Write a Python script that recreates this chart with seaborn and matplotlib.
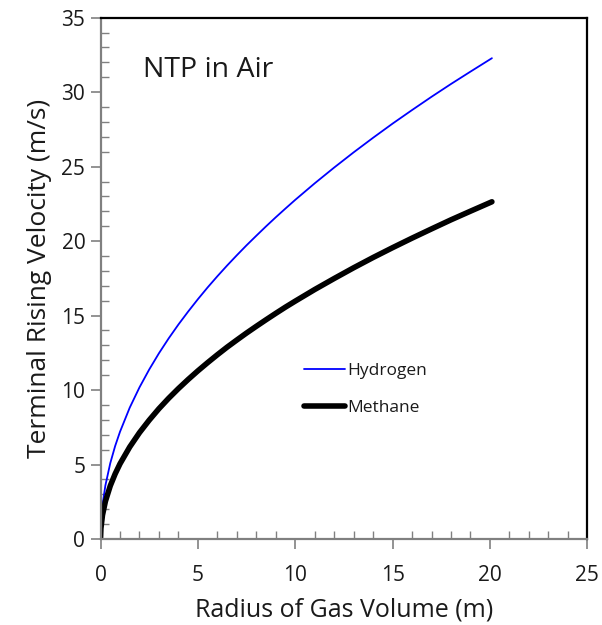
import numpy as np
import pandas as pd
import matplotlib
matplotlib.use("Agg")
import matplotlib.pyplot as plt
from matplotlib.ticker import MultipleLocator
import seaborn as sns

# Data
h_radius = [0.1, 0.25, 0.5, 0.75, 1, 1.5, 2, 2.5, 3, 3.5, 4, 4.5, 5, 5.5, 6, 6.5, 7, 7.5, 8,
            8.5, 9, 9.5, 10, 11, 12, 13, 14, 15, 16, 17, 18, 19, 20.1]
h_velocity = [2.28, 3.6, 5.09, 6.24, 7.2, 8.82, 10.18, 11.38, 12.47, 13.47, 14.4, 15.27,
              16.1, 16.89, 17.64, 18.36, 19.05, 19.72, 20.36, 20.99, 21.6, 22.19, 22.77,
              23.88, 24.94, 25.96, 26.94, 27.89, 28.8, 29.69, 30.55, 31.38, 32.28]
m_radius = [0, 0.02, 0.1, 0.25, 0.5, 0.75, 1, 1.5, 2, 2.5, 3, 3.5, 4, 4.5, 5, 5.5, 6, 6.5, 7,
            7.5, 8, 8.5, 9, 9.5, 10, 11, 12, 13, 14, 15, 16, 17, 18, 19, 20.1]
m_velocity = [0, 0.71, 1.6, 2.53, 3.57, 4.37, 5.05, 6.18, 7.14, 7.98, 8.75, 9.45, 10.1,
              10.71, 11.29, 11.84, 12.37, 12.88, 13.36, 13.83, 14.28, 14.72, 15.15, 15.57,
              15.97, 16.75, 17.49, 18.21, 18.9, 19.56, 20.2, 20.82, 21.43, 22.01, 22.64]

x_ticks = [0, 5, 10, 15, 20, 25]
y_ticks = [0, 5, 10, 15, 20, 25, 30, 35]

sns.set_style("white")
plt.rcParams['font.family'] = ['Open Sans', 'DejaVu Sans']

df_h = pd.DataFrame({"r": h_radius, "v": h_velocity})
df_m = pd.DataFrame({"r": m_radius, "v": m_velocity})

fig = plt.figure(figsize=(6.02, 6.25), dpi=100)
ax = fig.add_axes([0.167, 0.1376, 0.8086, 0.8341])

sns.lineplot(data=df_h, x="r", y="v", ax=ax, color="#0000ff", linewidth=1.3,
             label="Hydrogen", sort=False)
sns.lineplot(data=df_m, x="r", y="v", ax=ax, color="black", linewidth=4.0,
             label="Methane", sort=False, solid_capstyle="round")

ax.set_xlim(0, 25)
ax.set_ylim(0, 35)
ax.set_xticks(x_ticks)
ax.set_yticks(y_ticks)
ax.xaxis.set_minor_locator(MultipleLocator(1))
ax.yaxis.set_minor_locator(MultipleLocator(1))

txtc = "#1a1a1a"
ax.tick_params(axis="both", which="major", direction="out", length=7, width=1.2,
               color="#808080", labelsize=15, labelcolor=txtc)
ax.tick_params(axis="x", which="major", pad=12)
ax.tick_params(axis="y", which="major", pad=4)
ax.tick_params(axis="both", which="minor", direction="in", length=6, width=1.0,
               color="#808080")
ax.tick_params(axis="both", which="both", bottom=True, left=True, top=False, right=False)

for side in ["left", "bottom"]:
    ax.spines[side].set_color("#808080")
    ax.spines[side].set_linewidth(1.6)
for side in ["top", "right"]:
    ax.spines[side].set_color("black")
    ax.spines[side].set_linewidth(1.6)

ax.set_xlabel("Radius of Gas Volume (m)", fontsize=18, color=txtc, labelpad=8)
ax.set_ylabel("Terminal Rising Velocity (m/s)", fontsize=19, color=txtc, labelpad=7)

ax.text(0.088, 0.899, "NTP in Air", transform=ax.transAxes, fontsize=20.5,
        color=txtc, va="center", ha="left")

leg = ax.legend(loc="center left", bbox_to_anchor=(0.386, 0.286), frameon=False,
                fontsize=12.5, handlelength=2.35, handletextpad=0.15, labelspacing=1.2)
for t in leg.get_texts():
    t.set_color(txtc)

fig.savefig("out.png", dpi=100)
